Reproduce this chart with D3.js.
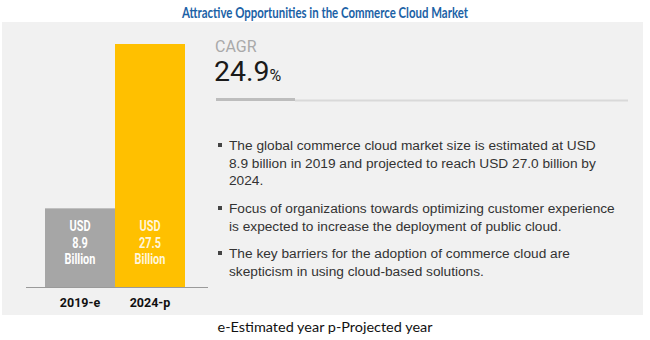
<!DOCTYPE html>
<html><head><meta charset="utf-8">
<script src="https://cdn.jsdelivr.net/npm/d3@7"></script>
<style>body{margin:0;background:#fff}svg{display:block}</style>
</head><body><svg id="c" width="650" height="340"></svg>
<script>
const categories = ["2019-e", "2024-p"];
const values = [8.9, 27.5];
const barLabels = [["USD", "8.9", "Billion"], ["USD", "27.5", "Billion"]];
const barColors = ["#a6a6a6", "#ffc000"];
const cagrLabel = "CAGR";
const cagrValue = "24.9";
const bullets = [
  ["The global commerce cloud market size is estimated at USD", "8.9 billion in 2019 and projected to reach USD 27.0 billion by", "2024."],
  ["Focus of organizations towards optimizing customer experience", "is expected to increase the deployment of public cloud."],
  ["The key barriers for the adoption of commerce cloud are", "skepticism in using cloud-based solutions."]
];
const title = "Attractive Opportunities in the Commerce Cloud Market";
const footer = "e-Estimated year p-Projected year";

const svg = d3.select("#c");
svg.append("rect").attr("x", 2).attr("y", 22).attr("width", 641).attr("height", 293).attr("fill", "#f1f1f1");
svg.append("text").attr("x", 325).attr("y", 18).attr("text-anchor", "middle")
  .attr("font-family", "Lato").attr("font-weight", "bold").attr("font-size", 14.5)
  .attr("fill", "#1b62a6").attr("textLength", 286).attr("lengthAdjust","spacingAndGlyphs").text(title);

const x = d3.scaleBand().domain(categories).range([45, 185]).padding(0);
const y = d3.scaleLinear().domain([0, 27.5]).range([287, 44]);

svg.selectAll("rect.bar").data(values).join("rect").attr("class", "bar")
  .attr("x", (d, i) => x(categories[i])).attr("width", x.bandwidth())
  .attr("y", d => y(d)).attr("height", d => y(0) - y(d))
  .attr("fill", (d, i) => barColors[i]);

svg.append("line").attr("x1", 26).attr("x2", 208).attr("y1", 287.5).attr("y2", 287.5)
  .attr("stroke", "#9a9a9a").attr("stroke-width", 1.2);

const xAxis = svg.append("g").attr("transform", "translate(0,287)")
  .call(d3.axisBottom(x).tickSize(0).tickPadding(0));
xAxis.select(".domain").remove();
xAxis.selectAll("text").attr("dy", 0).attr("y", 20).attr("font-family", "Roboto").attr("font-weight", "bold")
  .attr("font-size", 12.5).attr("fill", "#111");

categories.forEach((c, i) => {
  const g = svg.append("g")
    .attr("transform", `translate(${x(c) + x.bandwidth() / 2},0) scale(0.78,1)`);
  const t = g.append("text").attr("text-anchor", "middle").attr("font-family", "Roboto")
    .attr("font-weight", "bold").attr("font-size", 14).attr("fill", i ? "#fff6dc" : "#fff");
  barLabels[i].forEach((s, j) => {
    t.append("tspan").attr("x", 0).attr("y", 231.5 + j * 16.5).text(s);
  });
});

svg.append("text").attr("x", 215).attr("y", 52).attr("font-family", "Roboto")
  .attr("font-size", 16).attr("fill", "#a9a9a9").text(cagrLabel);
const ct = svg.append("text").attr("x", 214).attr("y", 81).attr("font-family", "Roboto")
  .attr("fill", "#1a1a1a");
ct.append("tspan").attr("font-size", 28.5).text(cagrValue);
ct.append("tspan").attr("font-size", 16).text("%");

svg.append("line").attr("x1", 295).attr("x2", 628).attr("y1", 100.5).attr("y2", 100.5)
  .attr("stroke", "#d9d9d9").attr("stroke-width", 2);
svg.append("line").attr("x1", 216).attr("x2", 295).attr("y1", 99.5).attr("y2", 99.5)
  .attr("stroke", "#bdbdbd").attr("stroke-width", 3);

const startY = [150, 213, 258];
bullets.forEach((lines, i) => {
  svg.append("rect").attr("x", 218).attr("y", startY[i] - 7).attr("width", 4).attr("height", 4).attr("fill", "#444");
  lines.forEach((s, j) => {
    svg.append("text").attr("x", 229).attr("y", startY[i] + j * 17.5)
      .attr("font-family", "Liberation Sans").attr("font-size", 13.7).attr("fill", "#333").text(s);
  });
});

svg.append("text").attr("x", 325).attr("y", 332).attr("text-anchor", "middle")
  .attr("font-family", "Lato").attr("font-size", 13.5).attr("fill", "#111")
  .attr("textLength", 215).attr("lengthAdjust","spacingAndGlyphs").text(footer);
</script></body></html>
